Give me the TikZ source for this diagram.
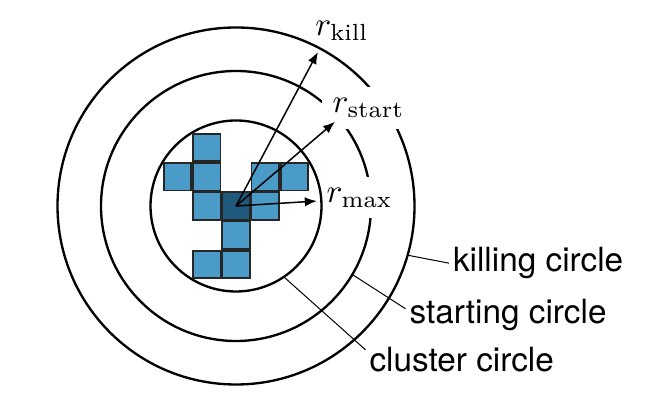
\documentclass[tikz,border=0pt]{standalone}
\usepackage{fontspec}
\newfontfamily\labelfont{TeX Gyre Heros}
\usetikzlibrary{arrows.meta, calc, positioning}
\definecolor{cellblue}{HTML}{4A9BC7}
\definecolor{celldark}{HTML}{1F5A7C}
\tikzset{
    ring/.style={line width=0.7pt},
    cell/.style={draw=black!85, line width=0.55pt, fill=cellblue, minimum size=8.2pt, inner sep=0pt},
    radius arrow/.style={line width=0.45pt, -{Latex[length=3.6pt,width=2.8pt]}},
    rlabel/.style={fill=white},
    leader/.style={line width=0.3pt},
    ringlabel/.style={font=\labelfont, inner sep=1pt, anchor=base west},
}

\begin{document}
\begin{tikzpicture}[x=0.3pt, y=0.3pt]
    \useasboundingbox (0,0) rectangle (658,418);
    \coordinate (ctr) at (236,212);

    % killing + starting circle
    \draw[ring] (ctr) circle[radius=53.55pt];
    \draw[ring] (ctr) circle[radius=40.5pt];

    % radius labels
    \node (rkill) at (342,387.3) {$r_{\mathrm{kill}}$};
    \node[rlabel] (rstart) at (368.5,310) {$r_{\mathrm{start}}$};
    \node[rlabel] (rmax) at (359.5,220.5) {$r_{\mathrm{max}}$};

    % cluster circle
    \draw[ring] (ctr) circle[radius=25.65pt];

    % cluster
    \foreach \i/\j [count=\k] in {-1/2, -2/1, -1/1, 1/1, 2/1, -1/0, 1/0, 0/-1, -1/-2, 0/-2}
        \node[cell] (cell\k) at ($(ctr)+(29.2*\i,29.2*\j)$) {};
    \node[cell, fill=celldark] (seed) at (ctr) {};

    % radii
    \coordinate (killtip) at ($(ctr)+(62:174.5)$);
    \coordinate (starttip) at ($(ctr)+(40.4:130)$);
    \coordinate (maxtip) at ($(ctr)+(3.5:81)$);
    \draw[radius arrow] (seed.center) -- (killtip);
    \draw[radius arrow] (seed.center) -- (starttip);
    \draw[radius arrow] (seed.center) -- (maxtip);

    % circle names
    \node[ringlabel] (killlbl) at (449,146.3) {killing circle};
    \node[ringlabel] (startlbl) at (405.5,94.7) {starting circle};
    \node[ringlabel] (cluslbl) at (365.5,46.3) {cluster circle};
    \coordinate (killpt) at ($(ctr)+(-16:178.5)$);
    \coordinate (startpt) at ($(ctr)+(-30.5:135)$);
    \coordinate (cluspt) at ($(ctr)+(-56:85.5)$);
    \draw[leader] (killpt) -- (killlbl.west);
    \draw[leader] (startpt) -- ([yshift=1.8pt]startlbl.west);
    \draw[leader] (cluspt) -- ([yshift=3pt]cluslbl.west);
\end{tikzpicture}
\end{document}
